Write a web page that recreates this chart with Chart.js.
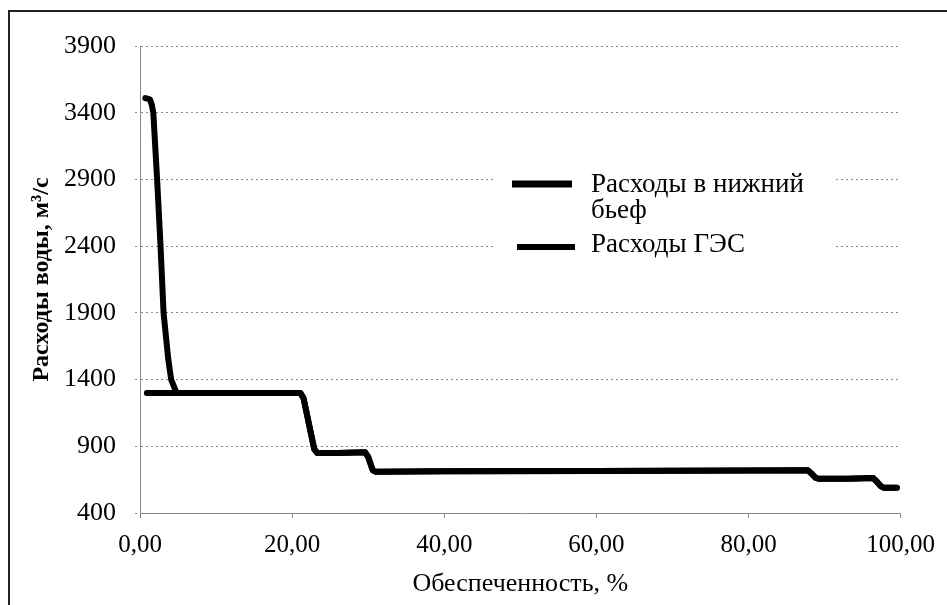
<!DOCTYPE html>
<html>
<head>
<meta charset="utf-8">
<script src="https://cdn.jsdelivr.net/npm/chart.js@4"></script>
<style>
  body { margin: 0; background: #fff; }
  #frame { position: absolute; left: 8px; top: 10px; width: 1000px; height: 700px;
           border-left: 2px solid #222; border-top: 2px solid #222; }
  #myChart { position: absolute; left: 0; top: 0; }
</style>
</head>
<body>
<div id="frame"></div>
<canvas id="myChart" width="947" height="605"></canvas>
<script>
// Обеспеченность, % (x) and расходы, м3/с (y)
const bottomX = [0.7, 1.3, 1.55, 1.75, 2.25, 2.7, 3.1, 3.7, 4.1, 4.8, 10, 21.1, 21.5, 22.9, 23.3, 26, 29.6, 30.0, 30.6, 31.0, 40, 60, 80, 87.8, 88.2, 88.8, 89.2, 93, 96.4, 96.8, 97.4, 97.8, 99.5];
const bottomQ = [3510, 3500, 3460, 3400, 2900, 2400, 1900, 1560, 1400, 1300, 1300, 1300, 1260, 880, 850, 850, 855, 820, 720, 710, 712, 715, 718, 720, 700, 665, 657, 657, 662, 640, 600, 590, 590];

const gesX = [0.9, 4.8, 10, 21.1, 21.5, 22.9, 23.3, 26, 29.6, 30.0, 30.6, 31.0, 40, 60, 80, 87.8, 88.2, 88.8, 89.2, 93, 96.4, 96.8, 97.4, 97.8, 99.5];
const gesQ = [1300, 1300, 1300, 1300, 1260, 880, 850, 850, 855, 820, 720, 710, 712, 715, 718, 720, 700, 665, 657, 657, 662, 640, 600, 590, 590];

const seriesNames = ['Расходы в нижний\nбьеф', 'Расходы ГЭС'];
const yTicks = { min: 400, max: 3900, step: 500 };
const xTicks = { min: 0, max: 100, step: 20 };

const serif = '"Liberation Serif", "Times New Roman", serif';

function toPoints(xs, ys) {
    return xs.map((x, i) => ({ x: x, y: ys[i] }));
}

// Legend drawn by hand: the first entry wraps over two lines
const boxLegend = {
    id: 'boxLegend',
    afterDatasetsDraw(chart) {
        const ctx = chart.ctx;
        const a = chart.chartArea;
        ctx.save();
        ctx.fillStyle = '#fff';
        ctx.fillRect(a.left + 355, a.top + 119, 340, 98);
        ctx.strokeStyle = '#000';
        ctx.lineWidth = 7;
        ctx.beginPath(); ctx.moveTo(a.left + 372, a.top + 138); ctx.lineTo(a.left + 432, a.top + 138); ctx.stroke();
        ctx.lineWidth = 6;
        ctx.beginPath(); ctx.moveTo(a.left + 377, a.top + 201); ctx.lineTo(a.left + 435, a.top + 201); ctx.stroke();
        ctx.fillStyle = '#000';
        ctx.font = '27px ' + serif;
        const lines = seriesNames[0].split('\n');
        ctx.fillText(lines[0], a.left + 451, a.top + 146);
        ctx.fillText(lines[1], a.left + 451, a.top + 172);
        ctx.fillText(seriesNames[1], a.left + 451, a.top + 206);
        ctx.restore();
    }
};

const lineStyle = {
    borderColor: '#000',
    borderWidth: 6,
    pointRadius: 0,
    borderJoinStyle: 'round',
    borderCapStyle: 'round'
};

const config = {
    type: 'line',
    data: {
        datasets: [
            Object.assign({ label: seriesNames[0], data: toPoints(bottomX, bottomQ) }, lineStyle),
            Object.assign({ label: seriesNames[1], data: toPoints(gesX, gesQ) }, lineStyle)
        ]
    },
    options: {
        responsive: false,
        animation: false,
        layout: { padding: { top: 46, right: 40, left: 0, bottom: 0 } },
        plugins: { legend: { display: false }, tooltip: { enabled: false } },
        scales: {
            x: {
                type: 'linear',
                min: xTicks.min, max: xTicks.max,
                afterFit: s => { s.height = 92; },
                ticks: {
                    stepSize: xTicks.step,
                    padding: 12,
                    color: '#000',
                    font: { family: serif, size: 25 },
                    callback: v => v.toFixed(2).replace('.', ',')
                },
                grid: { drawOnChartArea: false, color: '#888', tickLength: 5 },
                border: { color: '#888', dash: [2, 3] },
                title: {
                    display: true,
                    text: 'Обеспеченность, %',
                    color: '#000',
                    font: { family: serif, size: 26 },
                    padding: { top: 0, bottom: 5 }
                }
            },
            y: {
                min: yTicks.min, max: yTicks.max,
                afterFit: s => { s.width = 140; },
                ticks: {
                    stepSize: yTicks.step,
                    padding: 19,
                    color: '#000',
                    font: { family: serif, size: 26 },
                    callback: v => String(v)
                },
                grid: { color: '#888', lineWidth: 1, tickLength: 5, tickBorderDash: [2, 3] },
                border: { color: '#888', dash: [2, 3] },
                title: {
                    display: true,
                    text: 'Расходы воды, м³/с',
                    color: '#000',
                    font: { family: serif, size: 24, weight: 'bold' },
                    padding: { top: 27, bottom: 0 }
                }
            }
        }
    },
    plugins: [boxLegend]
};

// dotted horizontal grid lines
config.options.scales.y.grid.borderDash = [2, 3];

function init() {
    new Chart(document.getElementById('myChart'), config);
}

window.onload = init;
</script>
</body>
</html>
